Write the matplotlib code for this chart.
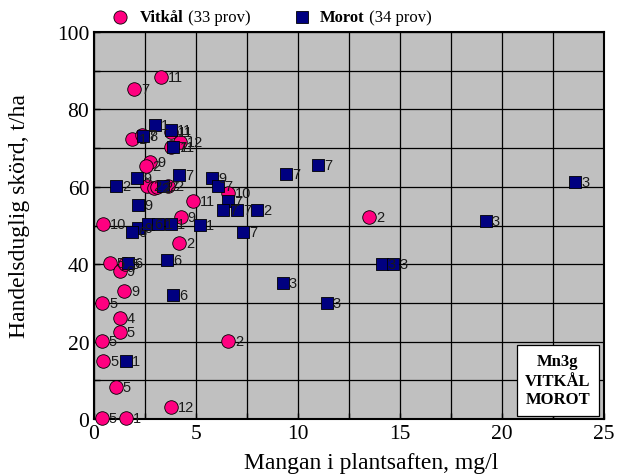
import matplotlib
matplotlib.use("Agg")
import matplotlib.pyplot as plt
from matplotlib.ticker import MultipleLocator
from matplotlib.patches import Rectangle

# Vitkål (pink circles)
vit_x = [1.96, 3.27, 1.85, 2.34, 3.77, 4.22, 3.77, 2.75, 2.53, 2.58, 2.95, 3.64,
         6.58, 4.87, 4.26, 0.46, 4.18, 0.78, 1.27, 1.49, 0.41, 1.27, 1.27, 0.38,
         6.58, 0.46, 1.06, 3.77, 0.38, 1.57, 13.5, 1.50, 3.10]
vit_y = [85.3, 88.3, 72.3, 73.4, 74.1, 71.5, 70.2, 66.5, 65.3, 60.1, 59.8, 60.1,
         58.4, 56.3, 52.3, 50.4, 45.4, 40.3, 38.2, 33.1, 30.1, 26.0, 22.4, 20.2,
         20.1, 15.1, 8.2, 3.2, 0.3, 0.3, 52.1, 40.0, 60.0]
vit_lab = ["7", "11", "1", "7", "11", "12", "7", "9", "2", "2", "2", "2",
           "10", "11", "9", "10", "2", "5", "9", "9", "5", "4", "5", "5",
           "2", "5", "5", "12", "5", "1", "2", "5", "2"]

# Morot (navy squares)
mor_x = [2.99, 3.77, 2.42, 3.89, 1.06, 2.09, 3.37, 4.17, 5.77, 6.06, 6.58, 6.34,
         7.00, 8.00, 5.20, 7.29, 9.40, 11.0, 23.6, 19.2, 14.1, 14.67, 9.25, 11.4,
         2.14, 2.17, 2.66, 3.15, 3.77, 1.88, 3.60, 3.86, 1.68, 1.57]
mor_y = [76.0, 74.8, 73.2, 70.2, 60.1, 62.2, 60.1, 63.1, 62.3, 60.1, 56.4, 54.1,
         54.1, 54.1, 50.1, 48.4, 63.3, 65.6, 61.2, 51.2, 40.0, 40.0, 35.1, 30.1,
         55.4, 49.3, 50.4, 50.4, 50.4, 48.2, 41.1, 32.1, 40.2, 15.1]
mor_lab = ["1", "11", "8", "11", "2", "9", "2", "7", "9", "7", "7", "7",
           "7", "2", "1", "7", "7", "7", "3", "3", "3", "3", "3", "3",
           "9", "9", "6", "1", "1", "6", "6", "6", "6", "1"]

x_ticks = [0, 5, 10, 15, 20, 25]
y_ticks = [0, 20, 40, 60, 80, 100]

serif = "Liberation Serif"
sans = "Liberation Sans"

fig = plt.figure(figsize=(6.18, 4.77), dpi=100)
ax = fig.add_axes([94/618, 1-420/477, 510/618, 387/477])
ax.set_facecolor("#c0c0c0")
ax.set_xlim(0, 25)
ax.set_ylim(0, 100)
ax.set_xticks(x_ticks)
ax.set_yticks(y_ticks)
ax.xaxis.set_minor_locator(MultipleLocator(2.5))
ax.yaxis.set_minor_locator(MultipleLocator(10))
ax.grid(True, which="both", color="black", linewidth=0.9, zorder=0)
ax.set_axisbelow(True)
ax.tick_params(which="both", direction="in", length=4, width=1,
               top=False, right=False)
ax.tick_params(labelsize=15.5)
for lab in ax.get_xticklabels() + ax.get_yticklabels():
    lab.set_fontfamily(serif)
for sp in ax.spines.values():
    sp.set_linewidth(1.5)

ax.scatter(vit_x, vit_y, s=95, marker="o", facecolor="#ff0080",
           edgecolor="black", linewidth=0.6, zorder=3, clip_on=False)
ax.scatter(mor_x, mor_y, s=75, marker="s", facecolor="#000080",
           edgecolor="black", linewidth=0.6, zorder=4, clip_on=False)
for x, y, t in zip(vit_x, vit_y, vit_lab):
    ax.annotate(t, (x, y), xytext=(5, 0), textcoords="offset points",
                va="center", ha="left", fontsize=10.5, fontfamily=sans,
                color="#1a1a1a", zorder=5)
for x, y, t in zip(mor_x, mor_y, mor_lab):
    ax.annotate(t, (x, y), xytext=(4.5, 0), textcoords="offset points",
                va="center", ha="left", fontsize=10.5, fontfamily=sans,
                color="#1a1a1a", zorder=5)

ax.set_xlabel("Mangan i plantsaften, mg/l", fontsize=17, fontfamily=serif)
ax.set_ylabel("Handelsduglig skörd, t/ha", fontsize=17, fontfamily=serif)
ax.xaxis.set_label_coords((371 - 94) / 510, -0.085)
ax.yaxis.set_label_coords(-0.125, (420 - 216) / 387)

# Inset box
bx0 = (517 - 94) / 510
bx1 = (599 - 94) / 510
by0 = (420 - 417) / 387
by1 = (420 - 346) / 387
ax.add_patch(Rectangle((bx0, by0), bx1 - bx0, by1 - by0, transform=ax.transAxes,
                       facecolor="white", edgecolor="black", linewidth=0.9,
                       zorder=6))
ax.text((bx0 + bx1) / 2, (by0 + by1) / 2, "Mn3g\nVITKÅL\nMOROT",
        transform=ax.transAxes, ha="center", va="center", fontsize=12,
        fontweight="bold", fontfamily=serif, linespacing=1.25, zorder=7)

# Legend at top
fig.canvas.draw()
r = fig.canvas.get_renderer()
ly = 1 - 18/477
fig.add_artist(plt.Line2D([120/618], [ly], marker="o", markersize=9.5,
                          markerfacecolor="#ff0080", markeredgecolor="black",
                          markeredgewidth=0.6, transform=fig.transFigure))
fig.add_artist(plt.Line2D([302/618], [ly], marker="s", markersize=8.5,
                          markerfacecolor="#000080", markeredgecolor="black",
                          markeredgewidth=0.6, transform=fig.transFigure))

def legend_text(x0, bold, rest):
    t1 = fig.text(x0, ly, bold, fontsize=12, fontweight="bold",
                  fontfamily=serif, va="center", ha="left")
    bb = t1.get_window_extent(renderer=r)
    fig.text(bb.x1 / fig.bbox.width, ly, " " + rest, fontsize=12,
             fontfamily=serif, va="center", ha="left")

legend_text(140/618, "Vitkål", "(33 prov)")
legend_text(320/618, "Morot", "(34 prov)")

fig.savefig("out.png", dpi=100)
